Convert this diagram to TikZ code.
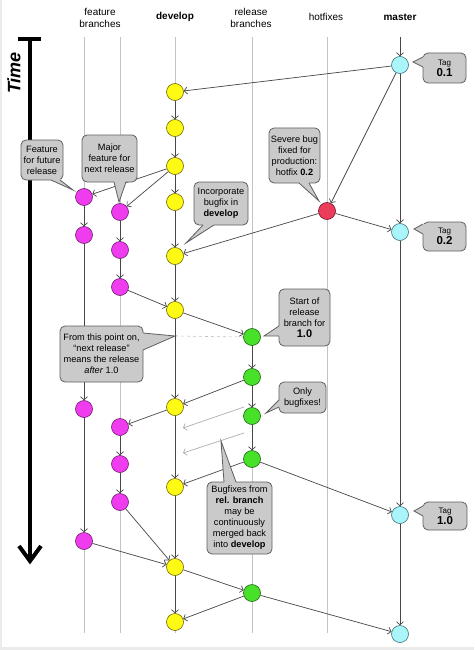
\documentclass[tikz,border=0pt]{standalone}
\usepackage{fontspec}
\setmainfont{Liberation Sans}
\usetikzlibrary{arrows.meta,calc}
\definecolor{cyel}{RGB}{255,250,20}
\definecolor{cyelb}{RGB}{110,100,0}
\definecolor{cmag}{RGB}{238,60,238}
\definecolor{cmagb}{RGB}{110,30,110}
\definecolor{cgrn}{RGB}{70,225,40}
\definecolor{cgrnb}{RGB}{30,100,20}
\definecolor{ccya}{RGB}{170,245,250}
\definecolor{ccyab}{RGB}{60,110,120}
\definecolor{cred}{RGB}{235,60,90}
\definecolor{credb}{RGB}{110,20,40}
\definecolor{lanec}{RGB}{195,195,195}
\definecolor{conc}{RGB}{70,70,70}
\definecolor{callf}{RGB}{202,202,202}
\definecolor{calld}{RGB}{95,95,95}
\definecolor{ghost}{RGB}{175,175,175}
\tikzset{
  commit/.style={circle,minimum size=17pt,inner sep=0pt,line width=0.6pt},
  dev/.style={commit,fill=cyel,draw=cyelb},
  feat/.style={commit,fill=cmag,draw=cmagb},
  rel/.style={commit,fill=cgrn,draw=cgrnb},
  mas/.style={commit,fill=ccya,draw=ccyab},
  hot/.style={commit,fill=cred,draw=credb},
  lane/.style={draw=lanec,line width=0.6pt},
  conn/.style={draw=conc,line width=0.7pt,-{Straight Barb[length=3pt,width=7pt]}},
  ghostarr/.style={draw=ghost,line width=0.7pt,-{Straight Barb[length=3pt,width=7pt]}},
  callbox/.style={draw=calld,fill=callf,line width=0.8pt,rounded corners=5pt,align=center,inner sep=0pt,font=\fontsize{9.2}{11}\selectfont},
  callfill/.style={fill=callf},
  callline/.style={draw=calld,line width=0.8pt,line join=miter},
  lanelabel/.style={align=center,font=\fontsize{10}{12}\selectfont,inner sep=0pt},
}
\newcommand\ptr[4]{%
  \fill[callfill] ($#2+#4$) -- #2 -- #1 -- #3 -- ($#3+#4$) -- cycle;
  \draw[callline] #2 -- #1 -- #3;}
\begin{document}
\begin{tikzpicture}[x=1pt,y=-1pt]
\useasboundingbox (0,0) rectangle (474,650);
\fill[white] (0,0) rectangle (474,650);
\fill[black!8] (0,647) rectangle (474,650);
\fill[black!8] (0,0) rectangle (2,650);

% lane labels
\node[lanelabel] (lf) at (100,18) {feature\\branches};
\node[lanelabel] (ld) at (175,17) {\textbf{develop}};
\node[lanelabel] (lr) at (251,18) {release\\branches};
\node[lanelabel] (lh) at (326,17) {hotfixes};
\node[lanelabel] (lm) at (400,17) {\textbf{master}};

% lanes
\foreach \x in {84,120,175,252,327}
  \draw[lane] (\x,37) -- (\x,633);

% time arrow
\coordinate (t0) at (30,39);
\coordinate (t1) at (30,561);
\draw[line width=4pt] (18,39) -- (41,39);
\draw[line width=4pt] (t0) -- ($(t1)+(0,-3)$);
\draw[line width=4pt,line cap=butt,line join=miter] (19,546) -- (t1) -- (41,546);
\node[rotate=90,font=\fontsize{18}{20}\selectfont\bfseries\itshape,inner sep=0pt] (time) at (14,73) {Time};

% commits
\foreach \n/\y in {0/92,1/128,2/166,3/202,4/256,5/310,6/407,7/487,8/567,9/622}
  \node[dev] (d\n) at (175,\y) {};
\foreach \n/\y in {a/197,b/235,c/409,d/541}
  \node[feat] (fa\n) at (84,\y) {};
\foreach \n/\y in {a/212,b/250,c/287,d/427,e/464,f/502}
  \node[feat] (fb\n) at (120,\y) {};
\foreach \n/\y in {0/337,1/377,2/416,3/459,4/593}
  \node[rel] (r\n) at (252,\y) {};
\node[hot] (h) at (327,211) {};
\foreach \n/\y in {0/65,1/232,2/515,3/634}
  \node[mas] (m\n) at (400,\y) {};
\coordinate (mtop) at (400,37);

% dashed marker
\coordinate (dmark) at (175,336);
\draw[lanec,dashed,line width=0.6pt] (dmark) -- (r0.west);

% connectors
\draw[conn] (mtop) -- (m0);
\draw[conn] (m0) -- (d0);
\draw[conn] (m0) -- (h);
\draw[conn] (m0) -- (m1);
\draw[conn] (h) -- (m1);
\draw[conn] (h) -- (d4);
\foreach \a/\b in {0/1,1/2,2/3,3/4,4/5,5/6,6/7,7/8,8/9}
  \draw[conn] (d\a) -- (d\b);
\draw[conn] (d2) -- (faa);
\draw[conn] (d2) -- (fba);
\draw[conn] (faa) -- (fab);
\draw[conn] (fab) -- (fac);
\draw[conn] (fac) -- (fad);
\draw[conn] (fba) -- (fbb);
\draw[conn] (fbb) -- (fbc);
\draw[conn] (fbc) -- (d5);
\draw[conn] (d5) -- (r0);
\draw[conn] (r0) -- (r1);
\draw[conn] (r1) -- (r2);
\draw[conn] (r2) -- (r3);
\draw[conn] (r1) -- (d6);
\draw[conn] (d6) -- (fbd);
\draw[conn] (fbd) -- (fbe);
\draw[conn] (fbe) -- (fbf);
\draw[conn] (fbf) -- (d8);
\draw[conn] (fad) -- (d8);
\draw[conn] (r3) -- (d7);
\draw[conn] (r3) -- (m2);
\draw[conn] (m1) -- (m2);
\draw[conn] (m2) -- (m3);
\draw[conn] (d8) -- (r4);
\draw[conn] (r4) -- (d9);
\draw[conn] (r4) -- (m3);

% ghost merge arrows
\coordinate (g1s) at (244,407);
\coordinate (g1e) at (183,428);
\coordinate (g2s) at (244,433);
\coordinate (g2e) at (183,453);
\draw[ghostarr] (g1s) -- (g1e);
\draw[ghostarr] (g2s) -- (g2e);

% callouts
\node[callbox,minimum width=43pt,minimum height=30pt] (c01) at (444.5,68)
  {{\fontsize{8}{10}\selectfont Tag}\\{\fontsize{11.5}{12}\selectfont\bfseries 0.1}};
\ptr{(413,62)}{(423,57)}{(423,67)}{(2,0)}
\node[callbox,minimum width=43pt,minimum height=29pt] (c02) at (444.5,236.5)
  {{\fontsize{8}{10}\selectfont Tag}\\{\fontsize{11.5}{12}\selectfont\bfseries 0.2}};
\ptr{(414,229)}{(423,224)}{(423,234)}{(2,0)}
\node[callbox,minimum width=44pt,minimum height=28pt] (c10) at (445,516)
  {{\fontsize{8}{10}\selectfont Tag}\\{\fontsize{11.5}{12}\selectfont\bfseries 1.0}};
\ptr{(414,511)}{(423,506)}{(423,516)}{(2,0)}

\node[callbox,minimum width=51pt,minimum height=55pt] (csev) at (294.5,155.5)
  {Severe bug\\fixed for\\production:\\hotfix \textbf{0.2}};
\ptr{(319,201)}{(299,183)}{(309,183)}{(0,-2)}

\node[callbox,minimum width=54pt,minimum height=43pt] (cinc) at (221,203.5)
  {Incorporate\\bugfix in\\\textbf{develop}};
\ptr{(186,243)}{(203,225)}{(214,225)}{(0,-2)}

\node[callbox,minimum width=55pt,minimum height=47pt] (cmaj) at (109.5,158.5)
  {Major\\feature for\\next release};
\ptr{(119,202)}{(114,182)}{(126,182)}{(0,-2)}

\node[callbox,minimum width=42pt,minimum height=40pt] (cfut) at (42,160)
  {Feature\\for future\\release};
\ptr{(73,190)}{(51,180)}{(60,180)}{(0,-2)}

\node[callbox,minimum width=83pt,minimum height=56pt] (cfrom) at (101.5,354)
  {From this point on,\\“next release”\\means the release\\\textit{after} 1.0};
\ptr{(175,336)}{(143,333)}{(143,350)}{(-2,0)}

\node[callbox,minimum width=51pt,minimum height=57pt] (cstart) at (304.5,317.5)
  {Start of\\release\\branch for\\{\fontsize{11}{12}\selectfont\bfseries 1.0}};
\ptr{(264,336)}{(279,326)}{(279,336)}{(2,0)}

\node[callbox,minimum width=47pt,minimum height=31pt] (conly) at (302.5,397.5)
  {Only\\bugfixes!};
\ptr{(266,413)}{(279,400)}{(279,407)}{(2,0)}

\node[callbox,minimum width=65pt,minimum height=72pt] (cbug) at (239.5,518)
  {Bugfixes from\\\textbf{rel. branch}\\may be\\continuously\\merged back\\into \textbf{develop}};
\ptr{(221,441)}{(224,482)}{(236,482)}{(0,2)}
\end{tikzpicture}
\end{document}
